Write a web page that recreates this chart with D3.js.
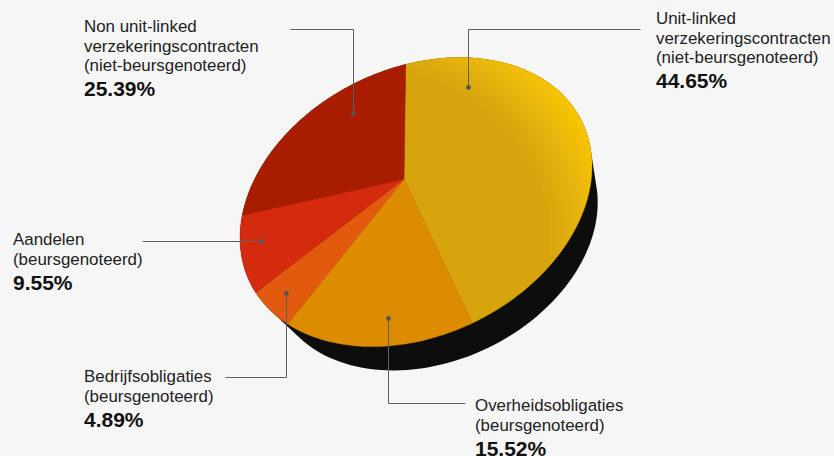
<!DOCTYPE html>
<html><head><meta charset="utf-8">
<script src="https://cdn.jsdelivr.net/npm/d3@7"></script>
<style>html,body{margin:0;padding:0;background:#f6f6f6}svg{display:block}text{font-family:"Liberation Sans",Arial,sans-serif;fill:#222}</style>
</head><body><svg id="c" width="834" height="456"></svg>
<script>
const categories=[["Unit-linked","verzekeringscontracten","(niet-beursgenoteerd)"],["Overheidsobligaties","(beursgenoteerd)"],["Bedrijfsobligaties","(beursgenoteerd)"],["Aandelen","(beursgenoteerd)"],["Non unit-linked","verzekeringscontracten","(niet-beursgenoteerd)"]];
const values=[44.65,15.52,4.89,9.55,25.39];
const colorsCenter=["#d8a408","#dd8b06","#e25a08","#d4290f","#a81f02"];
const colorsRim=["#f8c606","#e99a08","#da5407","#cb2610","#9c1c02"];
const labelAt=[[656,24],[475,411],[84,382],[13,245],[84,32]];
const leaders=[[[640,29],[468,29],[468,87]],[[465,403],[388,403],[388,318]],[[225,377],[286,377],[286,293]],[[142,241],[261,241]],[[290,29],[353,29],[353,113]]];

const svg=d3.select("#c");
const E={cx:416,cy:202,l11:176,l21:-36,l22:140,px:-0.068,py:-0.182,rot:0.005};
function project(a){
  let ux=Math.sin(a+E.rot),uy=-Math.cos(a+E.rot);
  const p2=E.px*E.px+E.py*E.py,g=Math.sqrt(1-p2),dot=ux*E.px+uy*E.py;
  const k=dot/p2;
  const qx=(E.px+k*E.px+g*(ux-k*E.px))/(1+dot),qy=(E.py+k*E.py+g*(uy-k*E.py))/(1+dot);
  return [E.cx+E.l11*qx,E.cy+E.l21*qx+E.l22*qy];
}
const apex=[E.cx+E.l11*E.px,E.cy+E.l21*E.px+E.l22*E.py];
const defs=svg.append("defs");
defs.append("filter").attr("id","soft").attr("x","-10%").attr("y","-10%").attr("width","120%").attr("height","120%").append("feGaussianBlur").attr("stdDeviation",0.7);
values.forEach((v,i)=>{
  const g=defs.append("radialGradient").attr("id","g"+i).attr("gradientUnits","userSpaceOnUse").attr("cx",380).attr("cy",240).attr("r",235);
  g.append("stop").attr("offset","0.72").attr("stop-color",colorsCenter[i]);
  g.append("stop").attr("offset","1").attr("stop-color",colorsRim[i]);
});
const arcs=d3.pie().sort(null).startAngle(0).endAngle(2*Math.PI)(values);
const line=d3.line();
const full=d3.range(0,360,2).map(d=>project(d*Math.PI/180));
const base={s:0.93,cx:434,cy:236};
const hull=d3.polygonHull(full.concat(full.map(p=>[base.cx+(p[0]-E.cx)*base.s,base.cy+(p[1]-E.cy)*base.s])));
svg.append("path").attr("d",line(hull)+"Z").attr("fill","#0d0c08").attr("filter","url(#soft)");
const chart=svg.append("g").attr("filter","url(#soft)");
arcs.forEach((d,i)=>{
  const pts=[apex].concat(d3.range(d.startAngle,d.endAngle,0.02).map(project),[project(d.endAngle)]);
  chart.append("path").attr("d",line(pts)+"Z").attr("fill",`url(#g${i})`).attr("stroke",`url(#g${i})`).attr("stroke-width",0.4);
});
const lead=svg.append("g").attr("transform","translate(0.5,0.5)");
leaders.forEach(l=>{
  lead.append("path").attr("d",line(l)).attr("fill","none").attr("stroke","#5f5f5f").attr("stroke-width",1);
  const e=l[l.length-1];
  lead.append("circle").attr("cx",e[0]).attr("cy",e[1]).attr("r",2.4).attr("fill","#555");
});
categories.forEach((c,i)=>{
  const [x,y]=labelAt[i];
  const t=svg.append("text").attr("x",x).attr("y",y).attr("font-size",16.9);
  c.forEach((s,j)=>t.append("tspan").attr("x",x).attr("dy",j?19.5:0).text(s));
  svg.append("text").attr("x",x).attr("y",y+19.5*(c.length-1)+25).attr("font-size",21).attr("font-weight",700).style("fill","#111").text(values[i].toFixed(2)+"%");
});
</script></body></html>
